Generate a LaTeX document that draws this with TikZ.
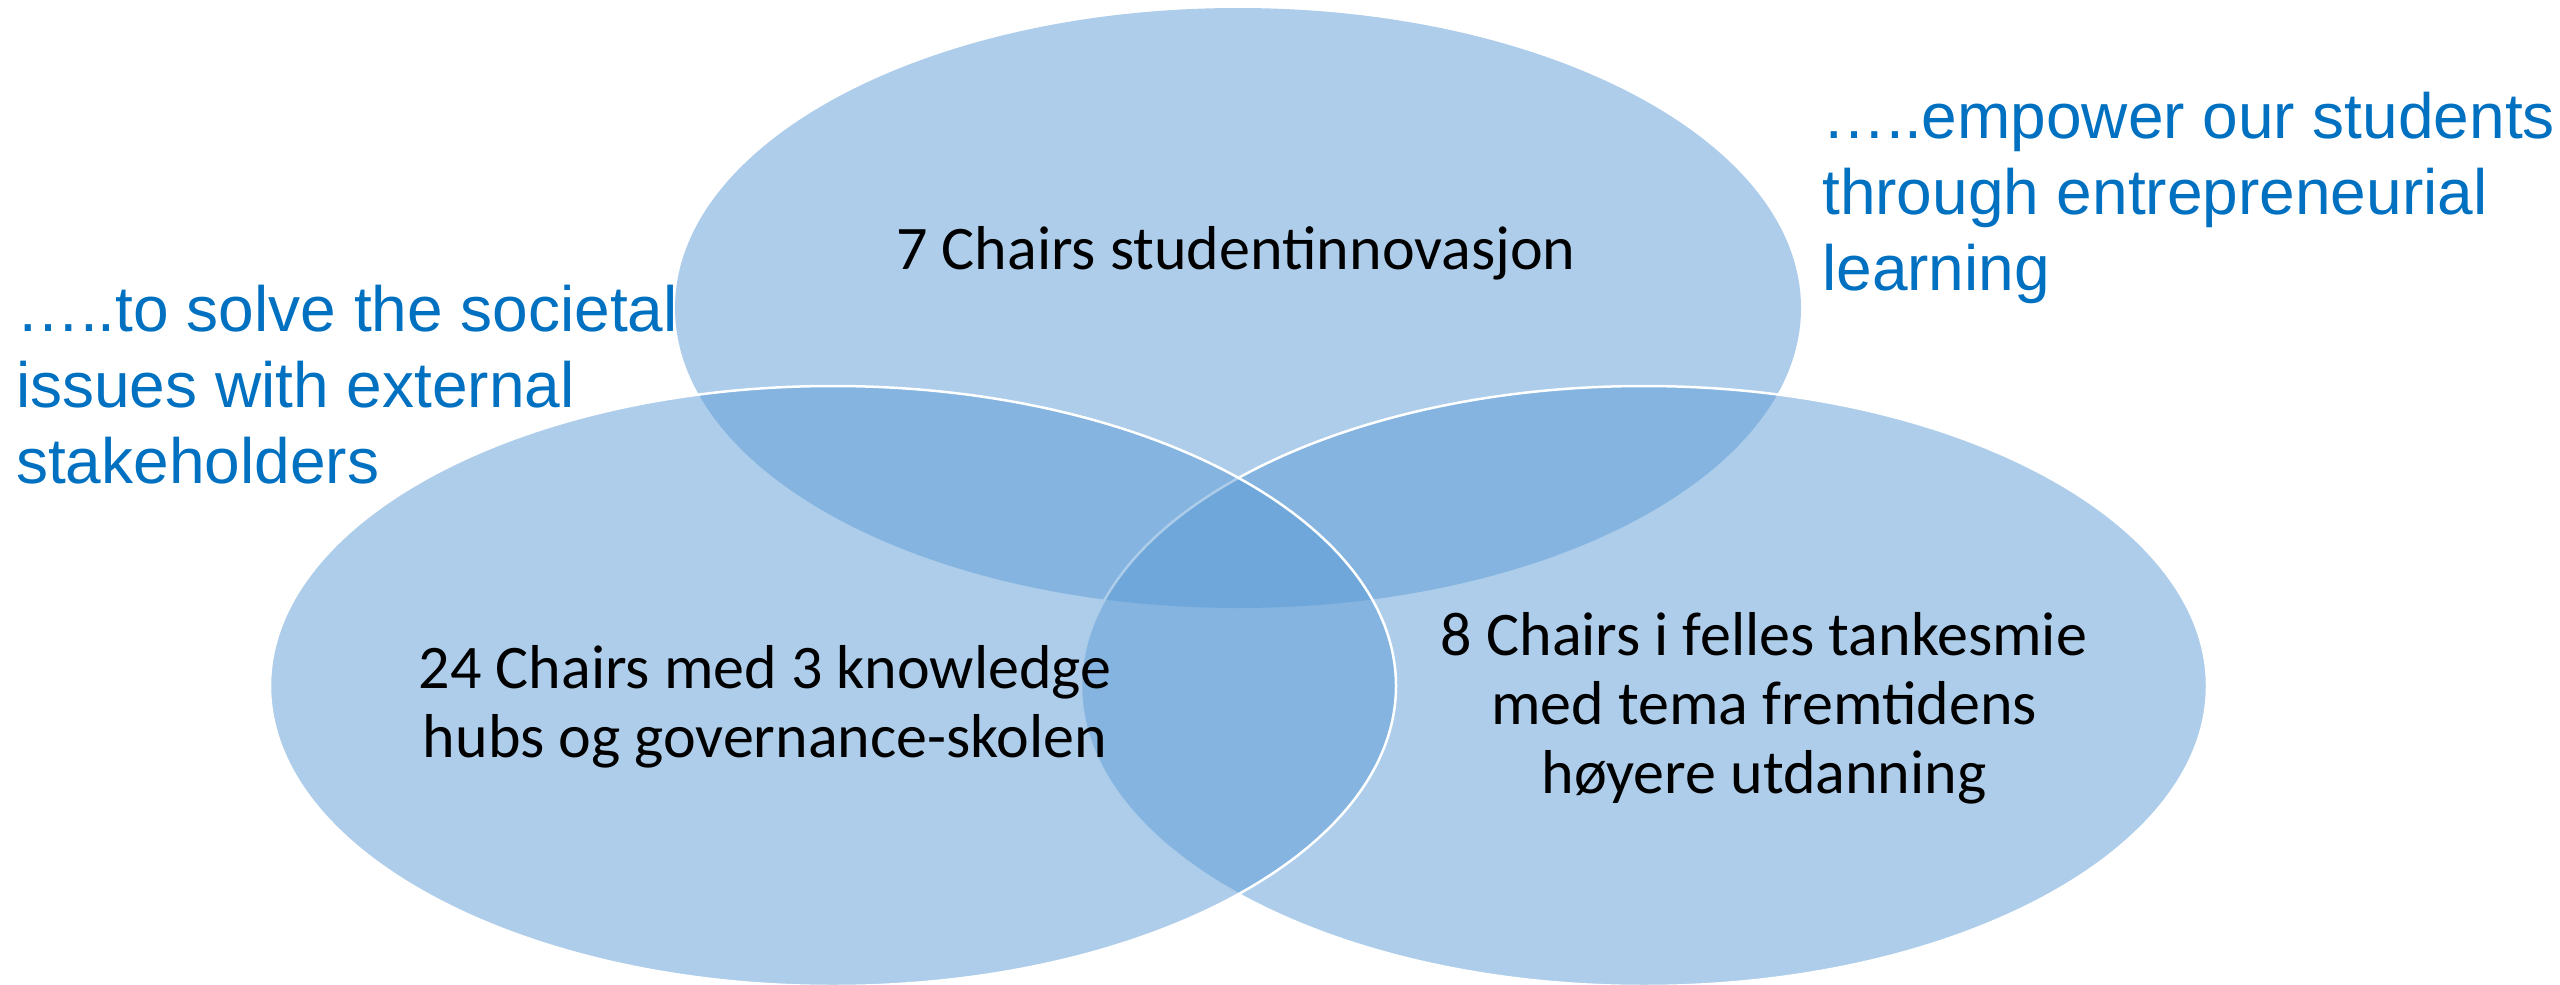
\documentclass[tikz,border=0pt]{standalone}
\usepackage{fontspec}
\setmainfont{Carlito}
\newfontfamily\arialf{Liberation Sans}
\usetikzlibrary{shapes.geometric}
\definecolor{vennblue}{HTML}{5B9BD5}
\definecolor{txtblue}{HTML}{0070C0}
\tikzset{
  venn/.style={ellipse, minimum width=1126pt, minimum height=600pt, inner sep=0pt,
    fill=vennblue, fill opacity=0.5},
  vennline/.style={venn, draw=white, line width=2.5pt},
  chairtext/.style={font=\fontsize{62}{69}\selectfont, align=center, inner sep=0pt, anchor=base, text=black},
  goaltext/.style={font=\arialf\fontsize{64}{76}\selectfont, align=left, inner sep=0pt, anchor=base west, text=txtblue}
}
\begin{document}
\begin{tikzpicture}[x=1pt,y=-1pt]
\useasboundingbox (0,0) rectangle (2560,985);
\node[venn] (top) at (1238,308) {};
\node[vennline] (right) at (1644,686) {};
\node[vennline] (left) at (833,686) {};
\node[chairtext] (ttop) at (1236,269) {7 Chairs studentinnovasjon};
\node[chairtext] (tleft) at (765,757) {24 Chairs med 3 knowledge\\hubs og governance-skolen};
\node[chairtext] (tright) at (1764,793) {8 Chairs i felles tankesmie\\med tema fremtidens\\høyere utdanning};
\node[goaltext] (gleft) at (16,483) {…..to solve the societal\\issues with external\\stakeholders};
\node[goaltext] (gright) at (1822,290) {…..empower our students\\through entrepreneurial\\learning};
\end{tikzpicture}
\end{document}
